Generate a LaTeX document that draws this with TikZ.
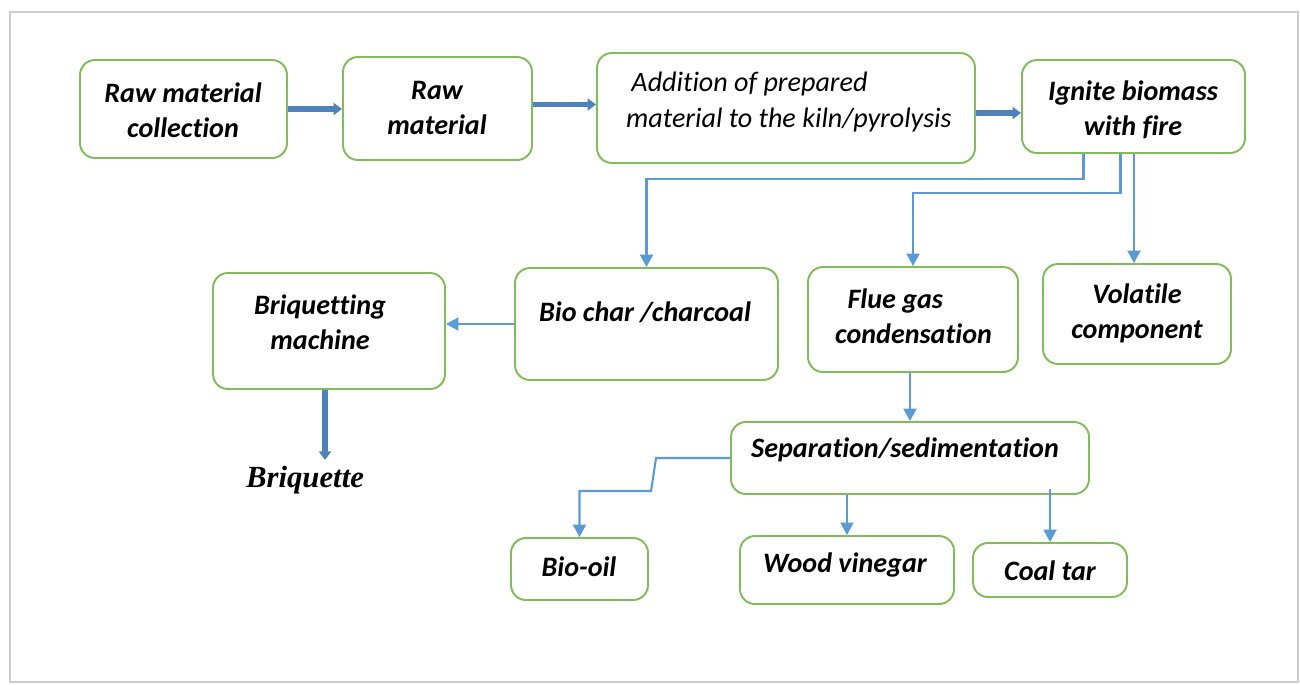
\documentclass[tikz,border=0pt]{standalone}
\usepackage{fontspec}
\setmainfont{Carlito}[Ligatures=NoCommon]
\newfontfamily\briqfont{Liberation Serif}
\usetikzlibrary{arrows.meta}
\definecolor{boxgreen}{RGB}{128,188,88}
\definecolor{thickblue}{RGB}{79,129,189}
\definecolor{thinblue}{RGB}{91,155,213}
\definecolor{framegray}{RGB}{205,205,205}
\newcommand{\nl}{\kern0pt }
\begin{document}
\begin{tikzpicture}[x=0.02cm, y=-0.02cm,
    box/.style={draw=boxgreen, line width=1.1pt, rounded corners=0.3cm, inner sep=0pt},
    txt/.style={font=\fontsize{16}{20}\selectfont\bfseries\itshape, align=center},
    bigflow/.style={thickblue, line width=3.4pt, -{Triangle[length=0.17cm,width=0.24cm]}},
    flow/.style={thinblue, line width=1.2pt, -{Triangle[length=0.25cm,width=0.26cm]}}]
    % Rahmen
    \useasboundingbox (0,0) rectangle (1300,684);
    \draw[framegray, line width=1.5pt] (10,12) rectangle (1298,682);
    % obere Reihe
    \node[box, minimum width=207*0.02cm, minimum height=98*0.02cm] (rmc) at (183.5,109) {};
    \node[txt] (rmc-t) at (183,110) {Raw material\\collection};
    \node[box, minimum width=189*0.02cm, minimum height=103*0.02cm] (rm) at (437.5,108.5) {};
    \node[txt] (rm-t) at (437,108) {Raw\\material};
    \node[box, minimum width=378*0.02cm, minimum height=110*0.02cm] (add) at (786,108) {};
    \node[txt, font=\fontsize{16}{20}\selectfont\itshape, align=left, anchor=west] (add-t) at (620,102) {\hspace{3pt}Addi\nl tion of prepared\\material to the kiln/pyrolysis};
    \node[box, minimum width=223*0.02cm, minimum height=93*0.02cm] (ign) at (1133.5,106.5) {};
    \node[txt] (ign-t) at (1133,109.5) {Ignite biomass\\with fire};
    % mittlere Reihe
    \node[box, minimum width=232*0.02cm, minimum height=116*0.02cm] (bm) at (329,331) {};
    \node[txt] (bm-t) at (320,322) {Briquet\nl t\nl ing\\machine};
    \node[box, minimum width=263*0.02cm, minimum height=112*0.02cm] (bc) at (646.5,324) {};
    \node[txt] (bc-t) at (645,312) {Bio char /charcoal};
    \node[box, minimum width=210*0.02cm, minimum height=105*0.02cm] (fg) at (913,319.5) {};
    \node[txt, align=left, anchor=west] (fg-t) at (829,316) {\hspace{7pt}Flue gas\\condensat\nl ion};
    \node[box, minimum width=188*0.02cm, minimum height=100*0.02cm] (vc) at (1137,314) {};
    \node[txt] (vc-t) at (1137,313.5) {Volat\nl ile\\component};
    \node[font=\briqfont\fontsize{17.5}{20}\selectfont\bfseries\itshape] (bq) at (305,480) {Briquette};
    % untere Reihe
    \node[box, minimum width=358*0.02cm, minimum height=72*0.02cm] (sep) at (910,458) {};
    \node[txt] (sep-t) at (905,450) {Separat\nl ion/sediment\nl at\nl ion};
    \node[box, minimum width=137*0.02cm, minimum height=62*0.02cm] (bo) at (579.5,569) {};
    \node[txt] (bo-t) at (579,567) {Bio-oil};
    \node[box, minimum width=214*0.02cm, minimum height=68*0.02cm] (wv) at (847,570) {};
    \node[txt] (wv-t) at (845,565) {Wood vinegar};
    \node[box, minimum width=154*0.02cm, minimum height=54*0.02cm] (ct) at (1050,570) {};
    \node[txt] (ct-t) at (1050,571) {Coal tar};
    % dicke Pfeile
    \draw[bigflow] (rmc.east) -- (rmc.east -| rm.west);
    \draw[bigflow] ([shift={(0,-4)}]rm.east) -- ([shift={(0,-4)}]rm.east -| add.west);
    \draw[bigflow] ([shift={(0,5)}]add.east) -- ([shift={(0,5)}]add.east -| ign.west);
    \draw[bigflow] ([shift={(-4,0)}]bm.south) -- ([shift={(-4,0)}]bm.south |- bq.north);
    % duenne Pfeile
    \draw[flow] ([shift={(-50,0)}]ign.south) -- ++(0,25) -| (bc.north);
    \draw[flow] ([shift={(-13,0)}]ign.south) -- ++(0,39) -| (fg.north);
    \draw[flow] ([shift={(-3,0)}]vc.north |- ign.south) -- ([shift={(-3,0)}]vc.north);
    \draw[flow] (bc.west) -- (bc.west -| bm.east);
    \draw[flow] ([shift={(-3,0)}]fg.south) -- ([shift={(-3,0)}]fg.south |- sep.north);
    \draw[flow] (sep.west) -- ++(-74,0) -- ++(-5,33) -| (bo.north);
    \draw[flow] (wv.north |- sep.south) -- (wv.north);
    \draw[flow] ([shift={(0,-6)}]ct.north |- sep.south) -- (ct.north);
\end{tikzpicture}
\end{document}
